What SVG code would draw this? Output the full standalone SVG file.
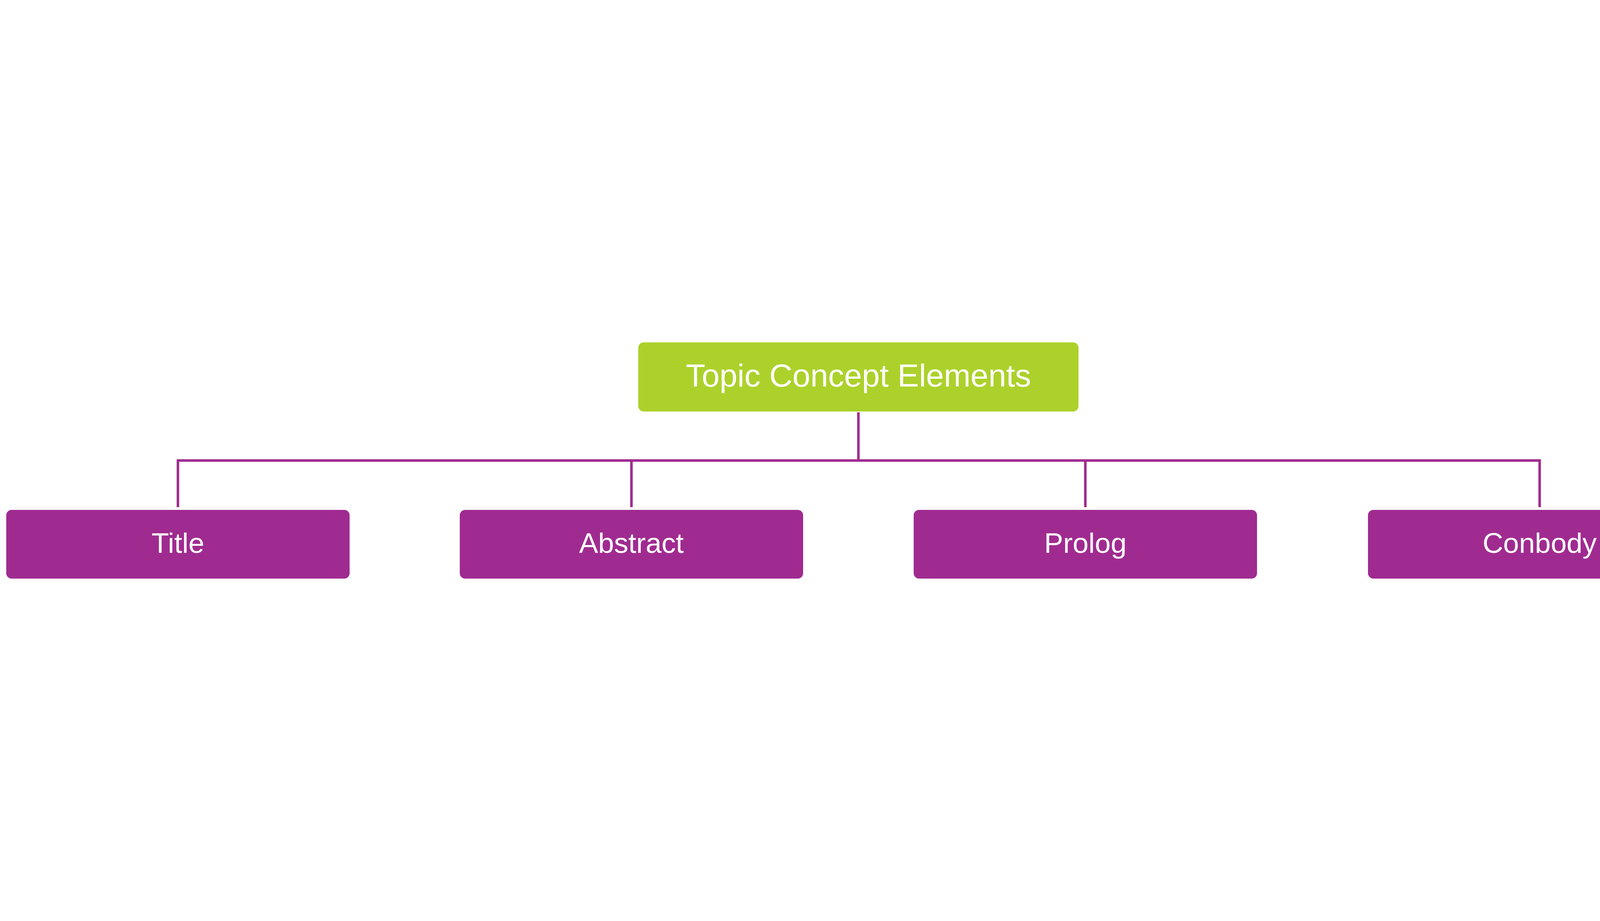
<svg xmlns="http://www.w3.org/2000/svg" width="4399" height="2359" viewBox="0 0 4399 2359">
<style>
.root{fill:#acd12b}
.child{fill:#a02b90}
.lbl{font-family:"Liberation Sans",Arial,sans-serif;fill:#ffffff;text-anchor:middle}
.conn{stroke:#a02b90;stroke-width:6.5;fill:none}
</style>
<rect width="4399" height="2359" fill="#ffffff"/>
<g id="connectors">
<path class="conn" d="M2197.5 1056 V1179.5"/>
<path class="conn" d="M455.5 1299 V1179.5 H3941.5 V1299"/>
<path class="conn" d="M1616.5 1179.5 V1299"/>
<path class="conn" d="M2778.5 1179.5 V1299"/>
</g>
<g id="node-root">
<rect class="root" x="1634" y="877" width="1127" height="177" rx="14" ry="14"/>
<text class="lbl" x="2197.5" y="990" font-size="82">Topic Concept Elements</text>
</g>
<g id="node-title">
<rect class="child" x="16" y="1306" width="879" height="176" rx="14" ry="14"/>
<text class="lbl" x="455.5" y="1416" font-size="73">Title</text>
</g>
<g id="node-abstract">
<rect class="child" x="1177" y="1306" width="879" height="176" rx="14" ry="14"/>
<text class="lbl" x="1616.5" y="1416" font-size="73">Abstract</text>
</g>
<g id="node-prolog">
<rect class="child" x="2339" y="1306" width="879" height="176" rx="14" ry="14"/>
<text class="lbl" x="2778.5" y="1416" font-size="73">Prolog</text>
</g>
<g id="node-conbody">
<rect class="child" x="3502" y="1306" width="879" height="176" rx="14" ry="14"/>
<text class="lbl" x="3941.5" y="1416" font-size="73">Conbody</text>
</g>
</svg>
